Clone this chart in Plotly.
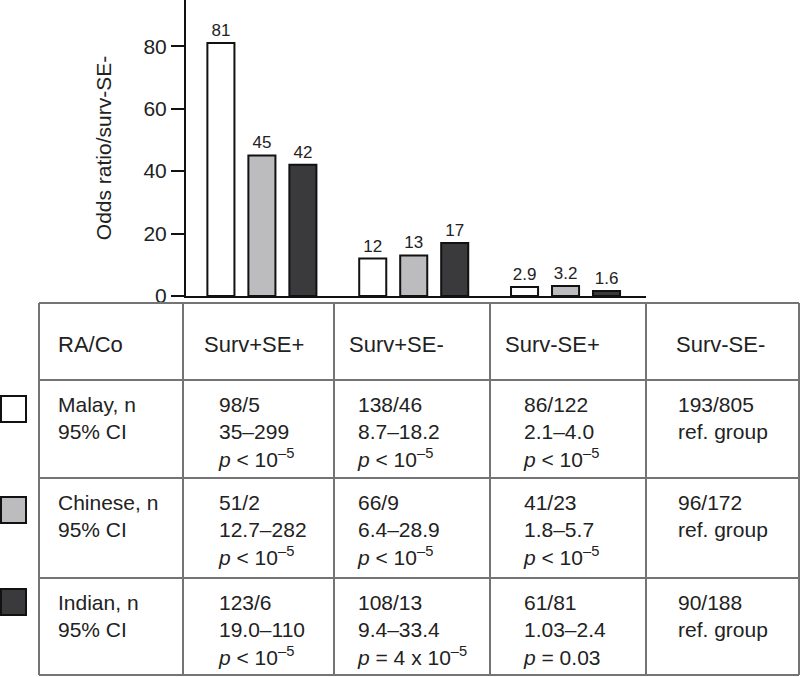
import plotly.graph_objects as go

# bar chart data
groups = ["Surv+SE+", "Surv+SE-", "Surv-SE+"]
malay_or = [81, 12, 2.9]
chinese_or = [45, 13, 3.2]
indian_or = [42, 17, 1.6]

# table data
header = ["RA/Co", "Surv+SE+", "Surv+SE-", "Surv-SE+", "Surv-SE-"]
row_labels = ["Malay, n<br>95% CI", "Chinese, n<br>95% CI", "Indian, n<br>95% CI"]
n_counts = [
    ["98/5", "138/46", "86/122", "193/805"],
    ["51/2", "66/9", "41/23", "96/172"],
    ["123/6", "108/13", "61/81", "90/188"],
]
ci_text = [
    ["35–299", "8.7–18.2", "2.1–4.0", "ref. group"],
    ["12.7–282", "6.4–28.9", "1.8–5.7", "ref. group"],
    ["19.0–110", "9.4–33.4", "1.03–2.4", "ref. group"],
]
p_text = [
    ["<i>p</i> < 10<sup>–5</sup>", "<i>p</i> < 10<sup>–5</sup>", "<i>p</i> < 10<sup>–5</sup>", ""],
    ["<i>p</i> < 10<sup>–5</sup>", "<i>p</i> < 10<sup>–5</sup>", "<i>p</i> < 10<sup>–5</sup>", ""],
    ["<i>p</i> < 10<sup>–5</sup>", "<i>p</i> = 4 x 10<sup>–5</sup>", "<i>p</i> = 0.03", ""],
]

colors = {'malay': '#ffffff', 'chinese': '#bcbcbe', 'indian': '#3a3a3c'}
FONT = "Liberation Sans, Arial, sans-serif"
TXT = "#222222"
GRID = "#747474"

W, H = 800, 677


def px(x):
    return x / W


def py(y):
    return 1 - y / H


fig = go.Figure()
for name, vals, key in [("Malay", malay_or, 'malay'), ("Chinese", chinese_or, 'chinese'),
                        ("Indian", indian_or, 'indian')]:
    fig.add_trace(go.Bar(
        x=[0, 1, 2], y=vals, name=name,
        text=[str(v) for v in vals], textposition='outside', cliponaxis=False,
        textfont=dict(size=17, color=TXT, family=FONT),
        marker=dict(color=colors[key], line=dict(color='#111111', width=2)),
        showlegend=False,
    ))

fig.update_layout(
    width=W, height=H,
    margin=dict(l=0, r=0, t=0, b=0),
    paper_bgcolor='white', plot_bgcolor='white',
    barmode='group', bargap=0.19, bargroupgap=0.34,
    font=dict(family=FONT, color=TXT, size=20),
    xaxis=dict(domain=[px(186), px(646)], anchor='y', range=[-0.5, 2.53], automargin=False,
               showline=True, linecolor='#111111', linewidth=2,
               showticklabels=False, ticks='', showgrid=False, zeroline=False),
    yaxis=dict(domain=[py(296), 1], anchor='x', range=[0, 94.8], automargin=False,
               tickvals=[0, 20, 40, 60, 80], ticks='outside', ticklen=13, tickwidth=2,
               tickcolor='#111111', showline=True, linecolor='#111111', linewidth=2,
               showgrid=False, zeroline=False, tickfont=dict(size=21, color=TXT),
               title=dict(text="Odds ratio/surv-SE-", font=dict(size=21, color=TXT), standoff=26)),
)

# table grid
col_edges = [39, 183, 334, 490, 646, 799]
row_edges = [303, 380, 478, 578, 675]
shapes = []
for y in row_edges:
    shapes.append(dict(type='line', xref='paper', yref='paper', x0=px(col_edges[0]), x1=px(col_edges[-1]),
                       y0=py(y), y1=py(y), line=dict(color=GRID, width=2)))
for x in col_edges:
    shapes.append(dict(type='line', xref='paper', yref='paper', x0=px(x), x1=px(x),
                       y0=py(row_edges[0]), y1=py(row_edges[-1]), line=dict(color=GRID, width=2)))

# legend swatches at the left of each row
swatch_tops = [396, 497, 589]
for top, key in zip(swatch_tops, ['malay', 'chinese', 'indian']):
    shapes.append(dict(type='rect', xref='paper', yref='paper', x0=px(1), x1=px(26),
                       y0=py(top), y1=py(top + 26), fillcolor=colors[key],
                       line=dict(color='#111111', width=2)))
fig.update_layout(shapes=shapes)

# table text
header_x = [56, 202, 347, 503, 674]
cell_x = [56, 216, 355, 521, 676]
annotations = []
hy = (row_edges[0] + row_edges[1]) / 2 + 3
for x, t in zip(header_x, header):
    annotations.append(dict(text=t, x=px(x), y=py(hy), xref='paper', yref='paper',
                            xanchor='left', yanchor='middle', showarrow=False,
                            font=dict(size=22, color=TXT)))
for r in range(3):
    top = row_edges[r + 1] + 11
    annotations.append(dict(text=row_labels[r], x=px(cell_x[0]), y=py(top), xref='paper', yref='paper',
                            xanchor='left', yanchor='top', align='left', showarrow=False,
                            font=dict(size=21, color=TXT)))
    for c in range(4):
        lines = [n_counts[r][c], ci_text[r][c]]
        if p_text[r][c]:
            lines.append(p_text[r][c])
        annotations.append(dict(text="<br>".join(lines), x=px(cell_x[c + 1]), y=py(top),
                                xref='paper', yref='paper', xanchor='left', yanchor='top',
                                align='left', showarrow=False, font=dict(size=21, color=TXT)))
fig.update_layout(annotations=annotations)

# the page body has an 8px default margin; drop it so the figure sits at the origin
fig.write_html("out.html", config={'displayModeBar': False},
               post_script="document.body.style.margin='0';")
